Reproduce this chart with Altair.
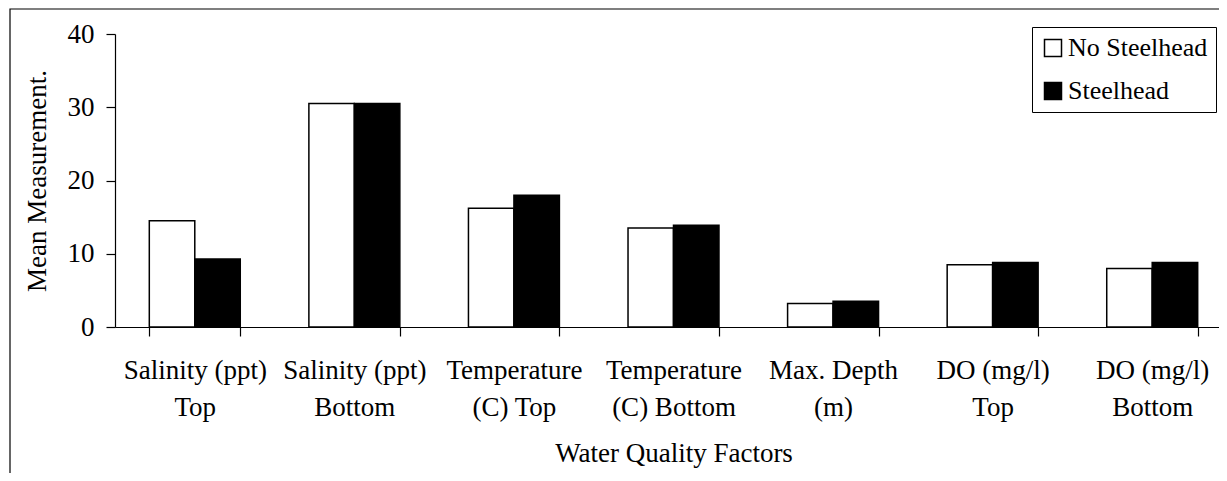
import altair as alt
import pandas as pd

categories = ["Salinity (ppt)|Top", "Salinity (ppt)|Bottom", "Temperature|(C) Top",
              "Temperature|(C) Bottom", "Max. Depth|(m)", "DO (mg/l)|Top", "DO (mg/l)|Bottom"]
series = ["No Steelhead", "Steelhead"]
no_steelhead = [14.5, 30.5, 16.2, 13.5, 3.2, 8.5, 8.0]
steelhead = [9.3, 30.5, 18.0, 13.9, 3.5, 8.8, 8.8]
y_ticks = [0, 10, 20, 30, 40]

rows = []
for c, a, b in zip(categories, no_steelhead, steelhead):
    rows.append({"factor": c, "group": series[0], "value": a})
    rows.append({"factor": c, "group": series[1], "value": b})
df = pd.DataFrame(rows)

FONT = "Liberation Serif"

bars = alt.Chart(df).mark_bar(stroke="black", strokeWidth=1.5).encode(
    x=alt.X("factor:N", sort=categories,
            scale=alt.Scale(range=[0, 1117], paddingInner=0.43, paddingOuter=0.215),
            axis=alt.Axis(title="Water Quality Factors", labelAngle=0,
                          labelExpr="split(datum.label, '|')", tickBand="extent",
                          labelLineHeight=37, labelPadding=21, tickSize=9,
                          titlePadding=20)),
    xOffset=alt.XOffset("group:N", sort=series,
                        scale=alt.Scale(paddingInner=0, paddingOuter=0)),
    y=alt.Y("value:Q", scale=alt.Scale(domain=[0, 40], nice=False),
            axis=alt.Axis(title="Mean Measurement.", values=y_ticks, grid=False,
                          tickSize=9, labelPadding=12, titlePadding=16)),
    fill=alt.Fill("group:N", sort=series,
                  scale=alt.Scale(domain=series, range=["white", "black"]),
                  legend=alt.Legend(orient="none", legendX=917, legendY=-7, title=None)),
)

frame = alt.Chart(alt.Data(values=[{}])).mark_rect(
    fill="transparent", stroke="black", strokeWidth=1.2
).encode(x=alt.value(-105), x2=alt.value(2000), y=alt.value(-25), y2=alt.value(1000))

chart = alt.layer(frame, bars).properties(
    width=1104, height=293,
    autosize=alt.AutoSizeParams(type="none"),
    padding={"left": 107, "top": 26, "right": 0, "bottom": 146},
).configure_view(strokeWidth=0).configure_axis(
    labelFont=FONT, titleFont=FONT, labelFontSize=27, titleFontSize=27,
    titleFontWeight="normal", labelColor="black", titleColor="black",
    domainColor="black", tickColor="black", domainWidth=1.2, tickWidth=1.2,
).configure_legend(
    labelFont=FONT, labelFontSize=26, labelColor="black",
    strokeColor="black", fillColor="white", padding=8,
    symbolType="square", symbolSize=289, symbolStrokeColor="black",
    symbolStrokeWidth=1.5, symbolOpacity=1, rowPadding=17, labelOffset=2,
)

chart.save("out.html", embed_options={"renderer": "svg", "actions": False})
